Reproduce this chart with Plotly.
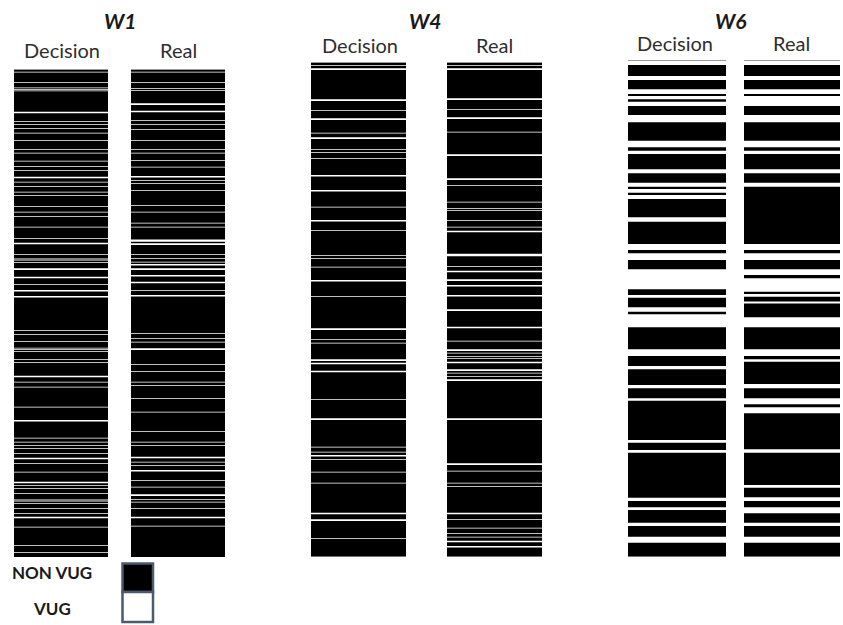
import plotly.graph_objects as go

# ---------------- data: vug intervals read from the logs ----------------
# each interval = (top depth, thickness), depth measured from the top of each log
W1_LENGTH = 487.0
W4_LENGTH = 494.0
W6_LENGTH = 495.7

W1_DECISION = [(1.7, .7), (12, .7), (17.5, .7), (19, .7), (20.5, .7), (41.7, 1.6), (51, .7), (54.3, .7),
               (58.3, .7), (62.7, .7), (70, .7), (79.3, .7), (82.7, .7), (90.7, .7), (96, .7), (100, .7),
               (106.7, 1.6), (111.7, .7), (116, .7), (121.7, .7), (125, .7), (136, .7), (141.7, .7),
               (146, .7), (156.7, .7), (168.3, .7), (172.7, 1.6), (184, .7), (188.5, .7), (189.7, .7),
               (192.3, .7), (198.3, 1.6), (206.7, 1.6), (214, .7), (220, 1.6), (226, 1.6), (260, .7),
               (264, .7), (271, .7), (277.8, .7), (279, .7), (281, .7), (289.3, .7), (292.3, .7),
               (305.7, 1.6), (311.7, .7), (316.7, .7), (336.7, .7), (350, 1.6), (367.7, .7), (371.7, .7),
               (375, .7), (378.3, .7), (383.3, .7), (387.7, 1.6), (393.3, .7), (401.7, .7), (411.7, 1.6),
               (415, .7), (418.3, .7), (423.3, .7), (429.5, .7), (430.7, .7), (433.3, .7), (438.3, .7),
               (443.3, .7), (446.7, 1.6), (456.7, .7), (475, .7), (482.3, .7)]

W1_REAL = [(1.7, .7), (12, .7), (18, .7), (20, .7), (33.3, 1.6), (40.7, 1.6), (50, .7), (54.3, .7),
           (59, .7), (70, .7), (79.3, .7), (82.7, .7), (90, .7), (96.7, .7), (106, 1.6), (110, .7),
           (113.3, .7), (120, .7), (135, .7), (141.7, .7), (152.7, .7), (156.7, .7), (169.5, 2.2),
           (173.3, 1.6), (184.3, .7), (188.3, .7), (191.7, .7), (194, 1.6), (198.3, 1.6), (205, 1.6),
           (211.7, 1.6), (220, .7), (225, 1.6), (263, .7), (268.3, .7), (271.7, .7), (278.3, 1.6),
           (294.3, .7), (301, .7), (311.7, .7), (315, .7), (328.3, .7), (341.7, .7), (361, .7),
           (371.7, .7), (375, .7), (386.7, 1.6), (391.7, .7), (395, .7), (400, 1.6), (410, .7),
           (416.7, .7), (424.3, 1.6), (429, .7), (431.7, .7), (438.3, .7), (446.7, 1.6), (455.7, .7)]

W4_DECISION = [(2.3, .7), (5.6, 1.6), (36.6, 1.6), (47.3, .7), (55.6, 1.6), (70, .7), (74.6, 1.6),
               (86.6, .7), (89.3, .7), (95.6, .7), (112.3, 1.6), (127.3, 1.6), (144, .7), (157.3, 1.6),
               (167.3, .7), (192.3, .7), (195.6, .7), (204, .7), (217.3, 1.6), (233.3, .7),
               (265.6, 1.6), (276.6, .7), (280, .7), (296.6, 1.6), (300, 1.6), (308, 1.6), (336.6, .7),
               (355.6, 1.6), (384, .7), (389, .7), (392.3, 1.6), (396.6, .7), (409, .7), (420, .7),
               (450, 1.6), (456.6, 1.6), (475.6, .7)]

W4_REAL = [(2.3, .7), (5.6, 1.6), (35.6, 1.6), (46.6, .7), (54.6, 1.6), (69, .7), (91.6, 1.6),
           (115.6, 1.6), (122.3, .7), (139, .7), (145.6, .7), (147.3, .7), (157.3, .7), (164, .7),
           (168, 1.6), (191, 2.5), (203.3, .7), (208, 1.6), (216.6, 1.6), (222.3, 1.6), (232.3, 1.6),
           (246.6, 1.6), (264, 1.6), (278, .7), (286.6, 1.6), (290, .7), (293.3, .7), (295.6, .7),
           (299, 1.6), (306.6, 1.6), (310, .7), (313.3, .7), (316.6, 1.6), (355.6, 1.6), (400.6, 1.6),
           (408, .7), (420, .7), (423.3, .7), (450, 1.6), (456.6, .7), (465, .7), (470.6, .7),
           (474, .7), (478, 1.6), (483.3, 1.6)]

W6_DECISION = [(0, 4), (15, 4), (28.3, 4.7), (35, 3.3), (40.7, 4.3), (54, 7.3), (79.7, 6.6), (89.7, 3.3),
               (108.3, 4), (121.7, 4), (128, 3.7), (134, 4), (156.3, 4.4), (183, 6), (192.3, 6.7),
               (208.3, 20), (234, 2.7), (246.3, 4.4), (253.3, 13), (288.3, 6.7), (305, 3.3), (324, 3.3),
               (337.3, 2.4), (379, 2.7), (389, 2.7), (436.7, 3.3), (446.3, 2.7), (461.7, 3.3),
               (475.7, 6)]

W6_REAL = [(0, 4), (15, 4), (28.3, 4.7), (35, 10), (54, 7.3), (79.7, 6.6), (89.7, 3.3), (108.3, 4),
           (121.7, 4), (183, 6), (192.3, 6.7), (208.3, 5.7), (217.3, 13.4), (233, 2.7), (240.5, 2),
           (256.3, 10), (288.3, 6.7), (298.3, 2.4), (323, 4.3), (337.3, 6), (346.3, 6), (388.3, 3.4),
           (424, 2.7), (436.3, 3.7), (446.3, 6), (461.7, 3.3), (475.7, 6)]

WELLS = ["W1", "W4", "W6"]
COLUMNS = ["Decision", "Real"]
LEGEND_LABELS = ["NON VUG", "VUG"]

# ---------------- layout geometry (pixels) ----------------
FIG_W, FIG_H = 843, 625
STRIPS = [
    # (intervals, length, x0, x1, ytop, ybottom)
    (W1_DECISION, W1_LENGTH, 14, 108, 70, 557),
    (W1_REAL, W1_LENGTH, 131, 225, 70, 557),
    (W4_DECISION, W4_LENGTH, 311, 406, 62.7, 556.7),
    (W4_REAL, W4_LENGTH, 447, 542, 62.7, 556.7),
    (W6_DECISION, W6_LENGTH, 628, 726, 61, 556.7),
    (W6_REAL, W6_LENGTH, 744, 840, 61, 556.7),
]
WELL_TITLE_POS = [(120, 21), (425, 21), (730.5, 21)]
COL_LABEL_POS = [[(62, 50), (178, 50)], [(359.7, 45), (494.7, 45)], [(675, 43), (791.5, 43)]]

fig = go.Figure()
layout_axes = {}
for k, (ivals, length, x0, x1, yt, yb) in enumerate(STRIPS, start=1):
    xa, ya = f"x{k}", f"y{k}"
    # black background = non-vug
    fig.add_trace(go.Scatter(
        x=[0, 1, 1, 0, 0], y=[0, 0, length, length, 0], mode="lines",
        fill="toself", fillcolor="#000000", line=dict(width=0, simplify=False),
        xaxis=xa, yaxis=ya, hoverinfo="skip", showlegend=False))
    xs, ys = [], []
    for top, thk in ivals:
        base = top + thk
        xs += [0, 1, 1, 0, 0, None]
        ys += [top, top, base, base, top, None]
    fig.add_trace(go.Scatter(
        x=xs, y=ys, mode="lines", fill="toself", fillcolor="#ffffff",
        line=dict(width=0, simplify=False), xaxis=xa, yaxis=ya, hoverinfo="skip",
        showlegend=False, connectgaps=False))
    suffix = "" if k == 1 else str(k)
    layout_axes[f"xaxis{suffix}"] = dict(
        domain=[x0 / FIG_W, x1 / FIG_W], range=[0, 1], showgrid=False, zeroline=False,
        showticklabels=False, ticks="", showline=True, side="top", linecolor="#9a9a9a",
        linewidth=1, anchor=ya, fixedrange=True)
    layout_axes[f"yaxis{suffix}"] = dict(
        domain=[1 - yb / FIG_H, 1 - yt / FIG_H], range=[length, 0], visible=False,
        anchor=xa, fixedrange=True)

annotations = []
for (tx, ty), name in zip(WELL_TITLE_POS, WELLS):
    annotations.append(dict(
        text=f"<b><i>{name}</i></b>", x=tx / FIG_W, y=1 - ty / FIG_H, xref="paper", yref="paper",
        xanchor="center", yanchor="middle", showarrow=False,
        font=dict(family="Lato", size=21, color="#1a1a1a")))
for pos_pair in COL_LABEL_POS:
    for (cx, cy), col in zip(pos_pair, COLUMNS):
        annotations.append(dict(
            text=col, x=cx / FIG_W, y=1 - cy / FIG_H, xref="paper", yref="paper",
            xanchor="center", yanchor="middle", showarrow=False,
            font=dict(family="Lato", size=20, color="#2e2e2e")))

# legend (key boxes)
annotations.append(dict(text=f"<b>{LEGEND_LABELS[0]}</b>", x=52 / FIG_W, y=1 - 572 / FIG_H,
                        xref="paper", yref="paper", xanchor="center", yanchor="middle",
                        showarrow=False, font=dict(family="Lato", size=17, color="#1a1a1a")))
annotations.append(dict(text=f"<b>{LEGEND_LABELS[1]}</b>", x=52 / FIG_W, y=1 - 608 / FIG_H,
                        xref="paper", yref="paper", xanchor="center", yanchor="middle",
                        showarrow=False, font=dict(family="Lato", size=17, color="#1a1a1a")))
shapes = [
    dict(type="rect", xref="paper", yref="paper", x0=122.5 / FIG_W, x1=153 / FIG_W,
         y0=1 - 592 / FIG_H, y1=1 - 563.5 / FIG_H, fillcolor="#000000",
         line=dict(color="#4b5a6e", width=2.5)),
    dict(type="rect", xref="paper", yref="paper", x0=122.5 / FIG_W, x1=153 / FIG_W,
         y0=1 - 622 / FIG_H, y1=1 - 592 / FIG_H, fillcolor="#ffffff",
         line=dict(color="#4b5a6e", width=2.5)),
]

fig.update_layout(
    width=FIG_W, height=FIG_H, autosize=False,
    margin=dict(l=0, r=0, t=0, b=0),
    paper_bgcolor="#ffffff", plot_bgcolor="rgba(0,0,0,0)",
    annotations=annotations, shapes=shapes, showlegend=False,
    **layout_axes)

fig.write_html("out.html", config={"displayModeBar": False},
               post_script="document.body.style.margin='0';document.body.style.overflow='hidden';")
